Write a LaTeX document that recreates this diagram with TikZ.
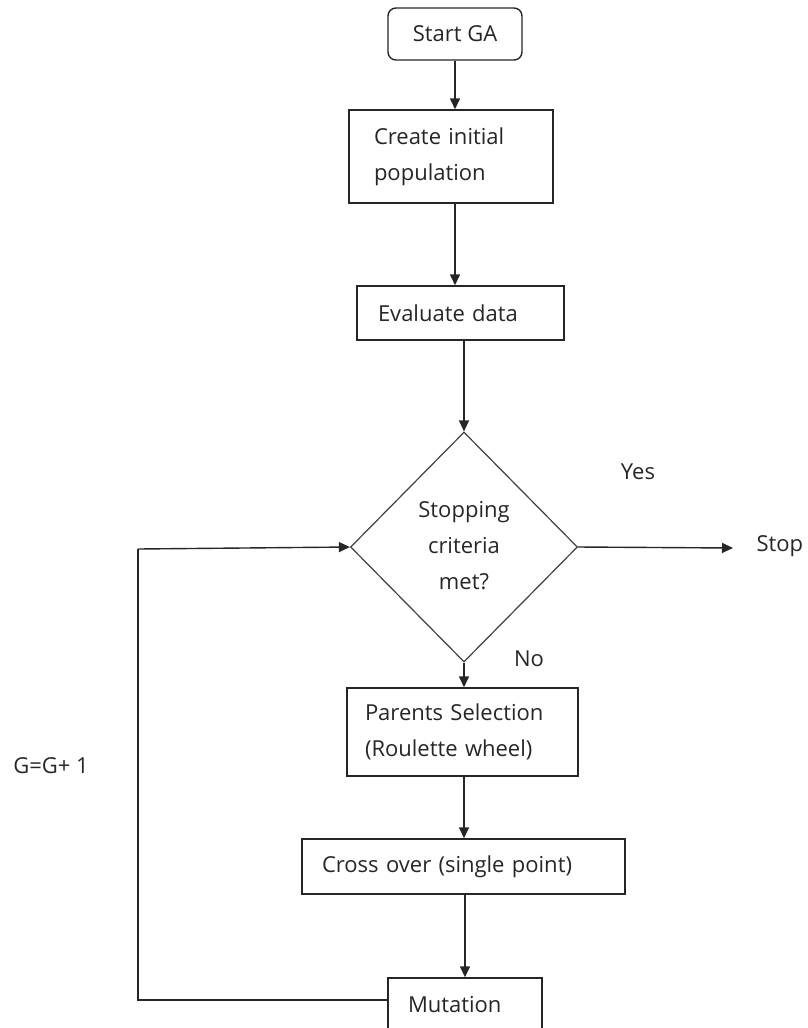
\documentclass[tikz,border=0pt]{standalone}
\usepackage{fontspec}
\setmainfont{Open Sans}
\usetikzlibrary{arrows.meta,shapes.geometric}
\begin{document}
\begin{tikzpicture}[x=1pt,y=-1pt,
  every node/.style={font=\fontsize{22}{36}\selectfont, text=black!85},
  box/.style={draw=black!85, line width=1.4pt, rectangle, align=left, inner ysep=0pt},
  conn/.style={draw=black!85, line width=1.4pt, -{Triangle[length=11pt,width=10pt]}},
  plain/.style={draw=black!85, line width=1.4pt}]
\useasboundingbox (0,0) rectangle (807,1028);
\clip (0,0) rectangle (807,1028);
\node[box, rounded corners=8pt, minimum width=134pt, minimum height=52pt, align=center, inner xsep=0pt] (start) at (455,34) {Start GA};
\node[box, text width=154pt, inner xsep=25pt, minimum height=93pt] (create) at (451,156.5) {Create initial\\population};
\node[box, text width=165pt, inner xsep=21pt, minimum height=54pt] (eval) at (460.5,313) {Evaluate data};
\node[diamond, draw=black!75, line width=1.2pt, minimum width=227pt, minimum height=230pt, inner sep=0pt] (dec) at (464,547) {};
\node[align=center] (dectext) at (464,546) {Stopping\\criteria\\met?};
\node[box, text width=195pt, inner xsep=18pt, minimum height=88pt] (parents) at (462.5,732) {Parents Selection\\(Roulette wheel)};
\node[box, text width=283pt, inner xsep=20pt, minimum height=55pt] (cross) at (463.5,866.5) {Cross over (single point)};
\node[box, text width=114pt, inner xsep=20pt, minimum height=54pt] (mut) at (465,1005) {Mutation};
\node[anchor=west] (stop) at (753,546) {Stop};
\node (yes) at (638,472) {Yes};
\node (no) at (529,659) {No};
\node (gg) at (51,766) {G=G+ 1};
\coordinate (stoptip) at (733,548);
\coordinate (c1) at (138,1000);
\coordinate (c2) at (138,549);
\draw[conn] (start.south) -- (start.south |- create.north);
\draw[conn] (start.south |- create.south) -- (start.south |- eval.north);
\draw[conn] (dec.north |- eval.south) -- (dec.north);
\draw[conn] (dec.east) -- (stoptip);
\draw[conn] (dec.south) -- (dec.south |- parents.north);
\draw[conn] (dec.south |- parents.south) -- (dec.south |- cross.north);
\draw[conn] (cross.south -| mut.north) -- (mut.north);
\draw[plain] (mut.west |- c1) -- (c1) -- (c2);
\draw[conn] (c2) -- (dec.west);
\end{tikzpicture}
\end{document}
